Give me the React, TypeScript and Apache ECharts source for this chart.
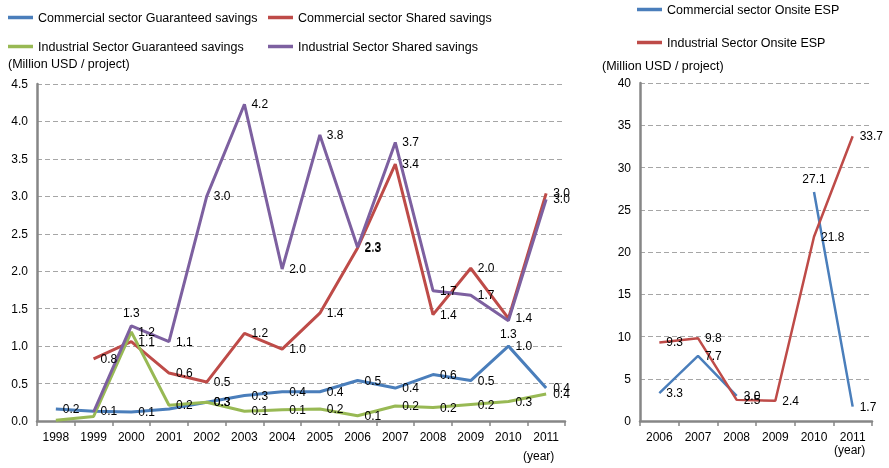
import React, { useEffect, useRef } from "react";
import * as echarts from "echarts";

const years = ["1998","1999","2000","2001","2002","2003","2004","2005","2006","2007","2008","2009","2010","2011"];
const commGuaranteed = [0.16, 0.13, 0.12, 0.16, 0.25, 0.34, 0.39, 0.39, 0.54, 0.44, 0.62, 0.54, 1.0, 0.44];
const commShared = [null, 0.83, 1.06, 0.64, 0.52, 1.17, 0.96, 1.44, 2.31, 3.43, 1.42, 2.04, 1.37, 3.04];
const indGuaranteed = [0.01, 0.06, 1.19, 0.21, 0.25, 0.13, 0.15, 0.16, 0.07, 0.2, 0.18, 0.22, 0.26, 0.36];
const indShared = [null, 0.12, 1.27, 1.06, 3.0, 4.23, 2.03, 3.82, 2.32, 3.72, 1.74, 1.68, 1.34, 2.96];

const espYears = ["2006","2007","2008","2009","2010","2011"];
const commOnsite = [3.3, 7.7, 2.97, null, 27.1, 1.7];
const indOnsite = [9.3, 9.8, 2.5, 2.4, 21.8, 33.7];

const leftTicks = { min: 0, max: 4.5, interval: 0.5 };
const rightTicks = { min: 0, max: 40, interval: 5 };

const BLUE = "#4A7EBB";
const RED = "#BE4B48";
const GREEN = "#98B954";
const PURPLE = "#7D60A0";
const FONT = "Liberation Sans";

function withLabels(values: (number | null)[], overrides: Record<number, string> = {}) {
  return values.map((v, i) => {
    const o = overrides[i];
    if (!o) return v;
    if (o === "hide") return { value: v, label: { show: false } };
    return { value: v, label: { position: o } };
  });
}

export default function App() {
  const ref = useRef<HTMLDivElement>(null);
  useEffect(() => {
    if (!ref.current) return;
    const chart = echarts.init(ref.current, undefined, { renderer: "svg" });
    const axisLine = { show: true, lineStyle: { color: "#868686", width: 2.5 } };
    const splitLine = { show: true, lineStyle: { color: "#A6A6A6", type: [5, 3] as any, width: 1 } };
    const label = {
      show: true,
      position: "right" as const,
      distance: 7,
      fontSize: 12,
      color: "#000",
      fontFamily: FONT,
      formatter: (p: any) => {
        const v = Array.isArray(p.value) ? p.value[1] : p.value;
        return v == null ? "" : Number(v).toFixed(1);
      },
    };
    const lineSeries = (name: string, data: any[], color: string, x: number, width: number) => ({
      name,
      type: "line" as const,
      xAxisIndex: x,
      yAxisIndex: x,
      data,
      symbol: "circle",
      symbolSize: 0,
      showSymbol: true,
      connectNulls: false,
      lineStyle: { color, width },
      itemStyle: { color },
      label,
      labelLayout: { hideOverlap: false },
    });
    const legendText = { fontSize: 12.5, color: "#000", fontFamily: FONT };
    const legend = (name: string, left: number, top: number) => ({
      data: [name],
      left,
      top,
      padding: 0,
      icon: "rect",
      itemWidth: 25,
      itemHeight: 3.5,
      textStyle: legendText,
      selectedMode: false,
    });
    chart.setOption({
      animation: false,
      textStyle: { fontFamily: FONT },
      legend: [
        legend("Commercial sector Guaranteed savings", 8, 11),
        legend("Commercial sector Shared savings", 268, 11),
        legend("Industrial Sector Guaranteed savings", 8, 40),
        legend("Industrial Sector Shared savings", 268, 40),
        legend("Commercial sector Onsite ESP", 637, 3),
        legend("Industrial Sector Onsite ESP", 637, 36),
      ],
      grid: [
        { left: 37, right: 324, top: 84, bottom: 47 },
        { left: 640, right: 17, top: 83, bottom: 47 },
      ],
      xAxis: [
        {
          type: "category", gridIndex: 0, data: years, boundaryGap: true,
          axisLine, axisTick: { show: true, length: 5, lineStyle: { color: "#868686", width: 1.5 } },
          axisLabel: { fontSize: 12, color: "#000", margin: 10, fontFamily: FONT },
        },
        {
          type: "category", gridIndex: 1, data: espYears, boundaryGap: true,
          axisLine, axisTick: { show: true, length: 5, lineStyle: { color: "#868686", width: 1.5 } },
          axisLabel: { fontSize: 12, color: "#000", margin: 10, fontFamily: FONT },
        },
      ],
      yAxis: [
        {
          type: "value", gridIndex: 0, ...leftTicks,
          axisLine, axisTick: { show: false }, splitLine,
          axisLabel: { fontSize: 12, color: "#000", margin: 9, fontFamily: FONT, formatter: (v: number) => v.toFixed(1) },
        },
        {
          type: "value", gridIndex: 1, ...rightTicks,
          axisLine, axisTick: { show: false }, splitLine,
          axisLabel: { fontSize: 12, color: "#000", margin: 9, fontFamily: FONT },
        },
      ],
      series: [
        lineSeries("Commercial sector Guaranteed savings", withLabels(commGuaranteed, { 3: "hide" }), BLUE, 0, 3),
        lineSeries("Commercial sector Shared savings", withLabels(commShared), RED, 0, 3),
        lineSeries("Industrial Sector Guaranteed savings", withLabels(indGuaranteed, { 0: "hide", 1: "hide" }), GREEN, 0, 3),
        lineSeries("Industrial Sector Shared savings", withLabels(indShared, { 1: "hide", 2: "top", 12: "bottom" }), PURPLE, 0, 3),
        lineSeries("Commercial sector Onsite ESP", withLabels(commOnsite, { 4: "top" }), BLUE, 1, 2.5),
        lineSeries("Industrial Sector Onsite ESP", withLabels(indOnsite), RED, 1, 2.5),
      ],
      graphic: [
        { type: "text", left: 8, top: 57, style: { text: "(Million USD / project)", fontSize: 12.5, fill: "#000", fontFamily: FONT } },
        { type: "text", left: 602, top: 59, style: { text: "(Million USD / project)", fontSize: 12.5, fill: "#000", fontFamily: FONT } },
        { type: "text", left: 523, top: 450, style: { text: "(year)", fontSize: 12, fill: "#000", fontFamily: FONT } },
        { type: "text", left: 834, top: 444, style: { text: "(year)", fontSize: 12, fill: "#000", fontFamily: FONT } },
      ],
    });
    return () => chart.dispose();
  }, []);
  return <div ref={ref} style={{ position: "fixed", left: 0, top: 0, width: 889, height: 468 }} />;
}
